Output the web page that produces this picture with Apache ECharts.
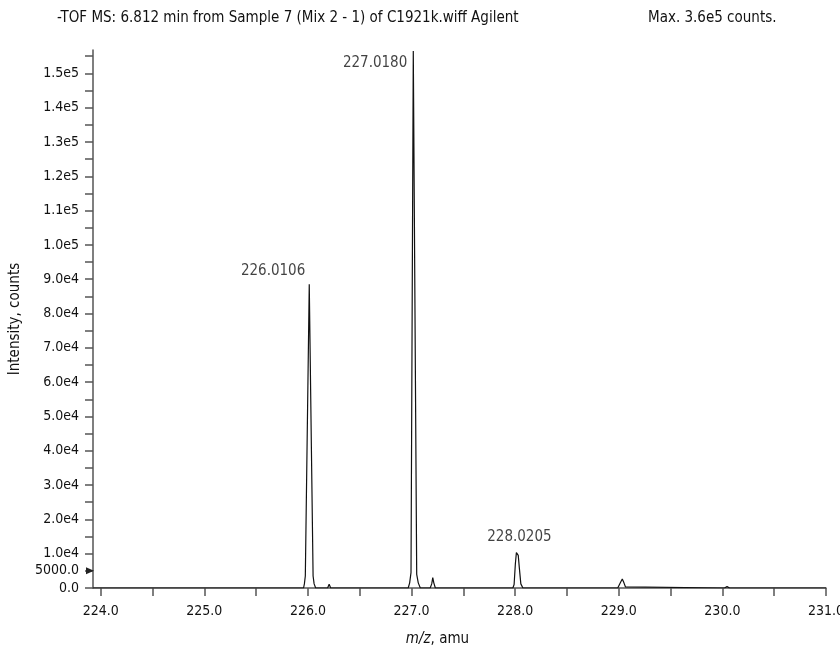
<!DOCTYPE html>
<html>
<head>
<meta charset="utf-8">
<script src="https://cdn.jsdelivr.net/npm/echarts@6/dist/echarts.min.js"></script>
<style>
	html, body { margin: 0; padding: 0; background: #fff; }
	#chart { width: 840px; height: 647px; }
</style>
</head>
<body>
<div id="chart"></div>
<script>
// 质谱曲线 (m/z, intensity)
let mz_list = [
	223.926, 225.958, 225.966, 225.975, 226.013, 226.034, 226.05, 226.06, 226.075,
	226.19, 226.205, 226.22,
	226.968, 226.982, 226.995, 227.017, 227.05, 227.065, 227.085,
	227.18, 227.195, 227.205, 227.215, 227.23,
	227.978, 227.99, 228.002, 228.012, 228.022, 228.03, 228.04, 228.055, 228.075,
	228.99, 229.005, 229.02, 229.034, 229.05, 229.065, 229.075,
	230.02, 230.045, 230.07, 231.0,
];
let intensity_list = [
	0, 0, 1200, 3500, 88500, 40000, 3500, 1200, 0,
	0, 1100, 0,
	0, 1500, 4500, 156500, 4000, 1500, 0,
	0, 1200, 3000, 1500, 0,
	0, 1000, 7000, 10300, 10400, 9500, 6000, 1200, 0,
	0, 500, 1800, 2600, 1500, 300, 0,
	0, 400, 0, 0,
];
// 峰标注
let peak_mz = [226.013, 227.017, 228.022];
let peak_intensity = [88500, 156500, 10400];
let peak_labels = ['226.0106', '227.0180', '228.0205'];
// 坐标轴刻度
let x_ticks = [224.0, 224.5, 225.0, 225.5, 226.0, 226.5, 227.0, 227.5, 228.0, 228.5, 229.0, 229.5, 230.0, 230.5, 231.0];
let x_labels = [224.0, 225.0, 226.0, 227.0, 228.0, 229.0, 230.0, 231.0];
let title_text = '-TOF MS: 6.812 min from Sample 7 (Mix 2 - 1) of C1921k.wiff Agilent';
let max_text = 'Max. 3.6e5 counts.';

let font = "'DejaVu Sans Condensed', 'Liberation Sans Narrow', sans-serif";
let axis_color = '#555';
let text_color = '#111';

let line_data = [];
for (let i = 0; i < mz_list.length; i++) {
	line_data.push([mz_list[i], intensity_list[i]]);
}
// 标注位置
let label_styles = [
	{ position: 'left', distance: 4, offset: [0, -13] },
	{ position: 'left', distance: 6, offset: [0, 12] },
	{ position: 'top', distance: 8, offset: [2, 0] },
];
let peak_data = [];
for (let i = 0; i < peak_mz.length; i++) {
	peak_data.push({
		value: [peak_mz[i], peak_intensity[i]],
		label: Object.assign({ show: true, formatter: peak_labels[i] }, label_styles[i]),
	});
}

function y_format(v) {
	if (v === 0) return '0.0';
	if (v === 5000) return '5000.0';
	if (v % 10000 !== 0) return '';
	if (v >= 100000) return `${(v / 100000).toFixed(1)}e5`;
	return `${(v / 10000).toFixed(1)}e4`;
}

let chart = echarts.init(document.getElementById('chart'));
let option = {
	animation: false,
	textStyle: { fontFamily: font },
	title: [
		{ text: title_text, left: 52, top: 6, textStyle: { fontFamily: font, fontSize: 15, fontWeight: 'normal', color: text_color } },
		{ text: max_text, left: 643, top: 6, textStyle: { fontFamily: font, fontSize: 15, fontWeight: 'normal', color: text_color } },
	],
	grid: { left: 93, right: 14, top: 50, bottom: 59, outerBoundsMode: 'none', containLabel: false },
	xAxis: {
		type: 'value',
		min: 223.926,
		max: 231.0,
		name: '{i|m/z}, amu',
		nameLocation: 'middle',
		nameGap: 44,
		nameTextStyle: {
			fontFamily: font,
			fontSize: 15,
			color: text_color,
			padding: [0, 44, 0, 0],
			rich: { i: { fontStyle: 'italic', fontFamily: font, fontSize: 15, color: text_color } },
		},
		splitLine: { show: false },
		axisLine: { show: true, onZero: false, lineStyle: { color: axis_color, width: 1.5 } },
		axisTick: { show: true, length: 8, customValues: x_ticks, lineStyle: { color: axis_color, width: 1.5 } },
		axisLabel: {
			customValues: x_labels,
			margin: 16,
			fontSize: 14,
			color: text_color,
			formatter: (v) => Number(v).toFixed(1),
		},
	},
	yAxis: {
		type: 'value',
		min: 0,
		max: 156800,
		interval: 5000,
		name: 'Intensity, counts',
		nameLocation: 'middle',
		nameGap: 70,
		nameTextStyle: { fontFamily: font, fontSize: 15, color: text_color },
		splitLine: { show: false },
		axisLine: { show: true, lineStyle: { color: axis_color, width: 1.5 } },
		axisTick: { show: true, length: 8, lineStyle: { color: axis_color, width: 1.5 } },
		axisLabel: {
			margin: 14,
			fontSize: 14,
			color: text_color,
			showMaxLabel: false,
			formatter: y_format,
		},
	},
	series: [
		{
			type: 'line',
			data: line_data,
			showSymbol: false,
			lineStyle: { color: '#111', width: 1.2 },
			markPoint: {
				silent: true,
				data: [
					{
						coord: [223.926, 5000],
						symbol: 'triangle',
						symbolRotate: -90,
						symbolSize: [7, 8],
						symbolOffset: [-3, 0],
						itemStyle: { color: '#222' },
						label: { show: false },
					},
				],
			},
		},
		{
			type: 'scatter',
			data: peak_data,
			symbolSize: 0,
			silent: true,
			label: { fontFamily: font, fontSize: 15, color: text_color },
		},
	],
};
chart.setOption(option);
</script>
</body>
</html>
